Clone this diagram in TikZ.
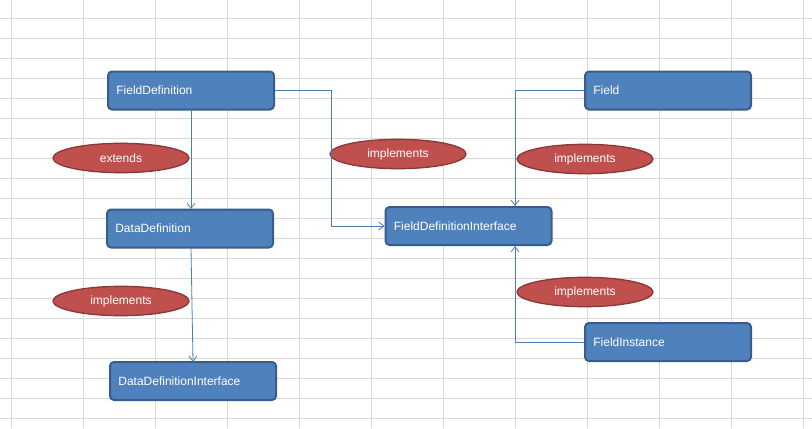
\documentclass[tikz,border=0pt]{standalone}
\usepackage{fontspec}
\setmainfont{Liberation Sans}
\usetikzlibrary{shapes.geometric,arrows.meta}
\definecolor{boxBlue}{RGB}{79,129,189}
\definecolor{boxEdge}{RGB}{56,93,138}
\definecolor{ovalRed}{RGB}{192,80,77}
\definecolor{ovalEdge}{RGB}{140,56,54}
\definecolor{gridGray}{RGB}{216,216,216}
\definecolor{lineBlue}{RGB}{74,126,187}
\begin{document}
\begin{tikzpicture}
[x=0.75pt,y=-0.75pt,
  boxDecorate/.style={draw=boxEdge,line width=1.5pt,fill=boxBlue,rounded corners=3pt,
    minimum width=124.5pt,minimum height=28.5pt,text width=112pt,align=left,
    text=white,font=\fontsize{9}{10}\selectfont},
  ovalDecorate/.style={ellipse,draw=ovalEdge,line width=1pt,fill=ovalRed,
    minimum width=102pt,minimum height=22pt,inner sep=0pt,
    text=white,font=\fontsize{9}{10}\selectfont},
  lineDecorate/.style={draw=lineBlue,line width=0.6pt,-{Straight Barb[length=4pt,width=6pt]}}]
\fill[white] (0,0) rectangle (812,428);
\useasboundingbox (0,0) rectangle (812,428);
%% grid
\foreach \x in {11,83,155,227,299,371,443,515,587,659,731,803}
  {\draw[gridGray,line width=0.5pt] (\x,0) -- (\x,428);}
\foreach \y in {18,38,...,418}
  {\draw[gridGray,line width=0.5pt] (0,\y) -- (812,\y);}
%% boxes
\foreach \nodename/\x/\y/\txt in {
  fieldDef/191/90.5/FieldDefinition,
  dataDef/190/228.5/DataDefinition,
  dataDefInt/193/381/DataDefinitionInterface,
  fieldDefInt/468.5/226/FieldDefinitionInterface,
  field/668/90.5/Field,
  fieldInst/668/342/FieldInstance}
{
  \node (\nodename) at (\x,\y) [boxDecorate] {\txt};
}
%% labels
\foreach \nodename/\x/\y/\txt in {
  extendsA/121/158/extends,
  implA/398/154/implements,
  implB/585/159/implements,
  implC/121/301/implements,
  implD/585/292/implements}
{
  \node (\nodename) at (\x,\y) [ovalDecorate] {\txt};
}
%% connectors
\coordinate (fdBot) at (191,110);
\coordinate (ddTop) at (191,209);
\coordinate (ddBot) at (191,248);
\coordinate (ddiTop) at (193,362);
\draw[lineDecorate] (fdBot) -- (ddTop);
\draw[lineDecorate] (ddBot) -- (ddiTop);
\draw[lineDecorate] (fieldDef.east) -- ++(56,0) |- (fieldDefInt.west);
\draw[lineDecorate] (field.west) -| (fieldDefInt.north -| 515,0);
\draw[lineDecorate] (fieldInst.west) -| (fieldDefInt.south -| 515,0);
\end{tikzpicture}
\end{document}
